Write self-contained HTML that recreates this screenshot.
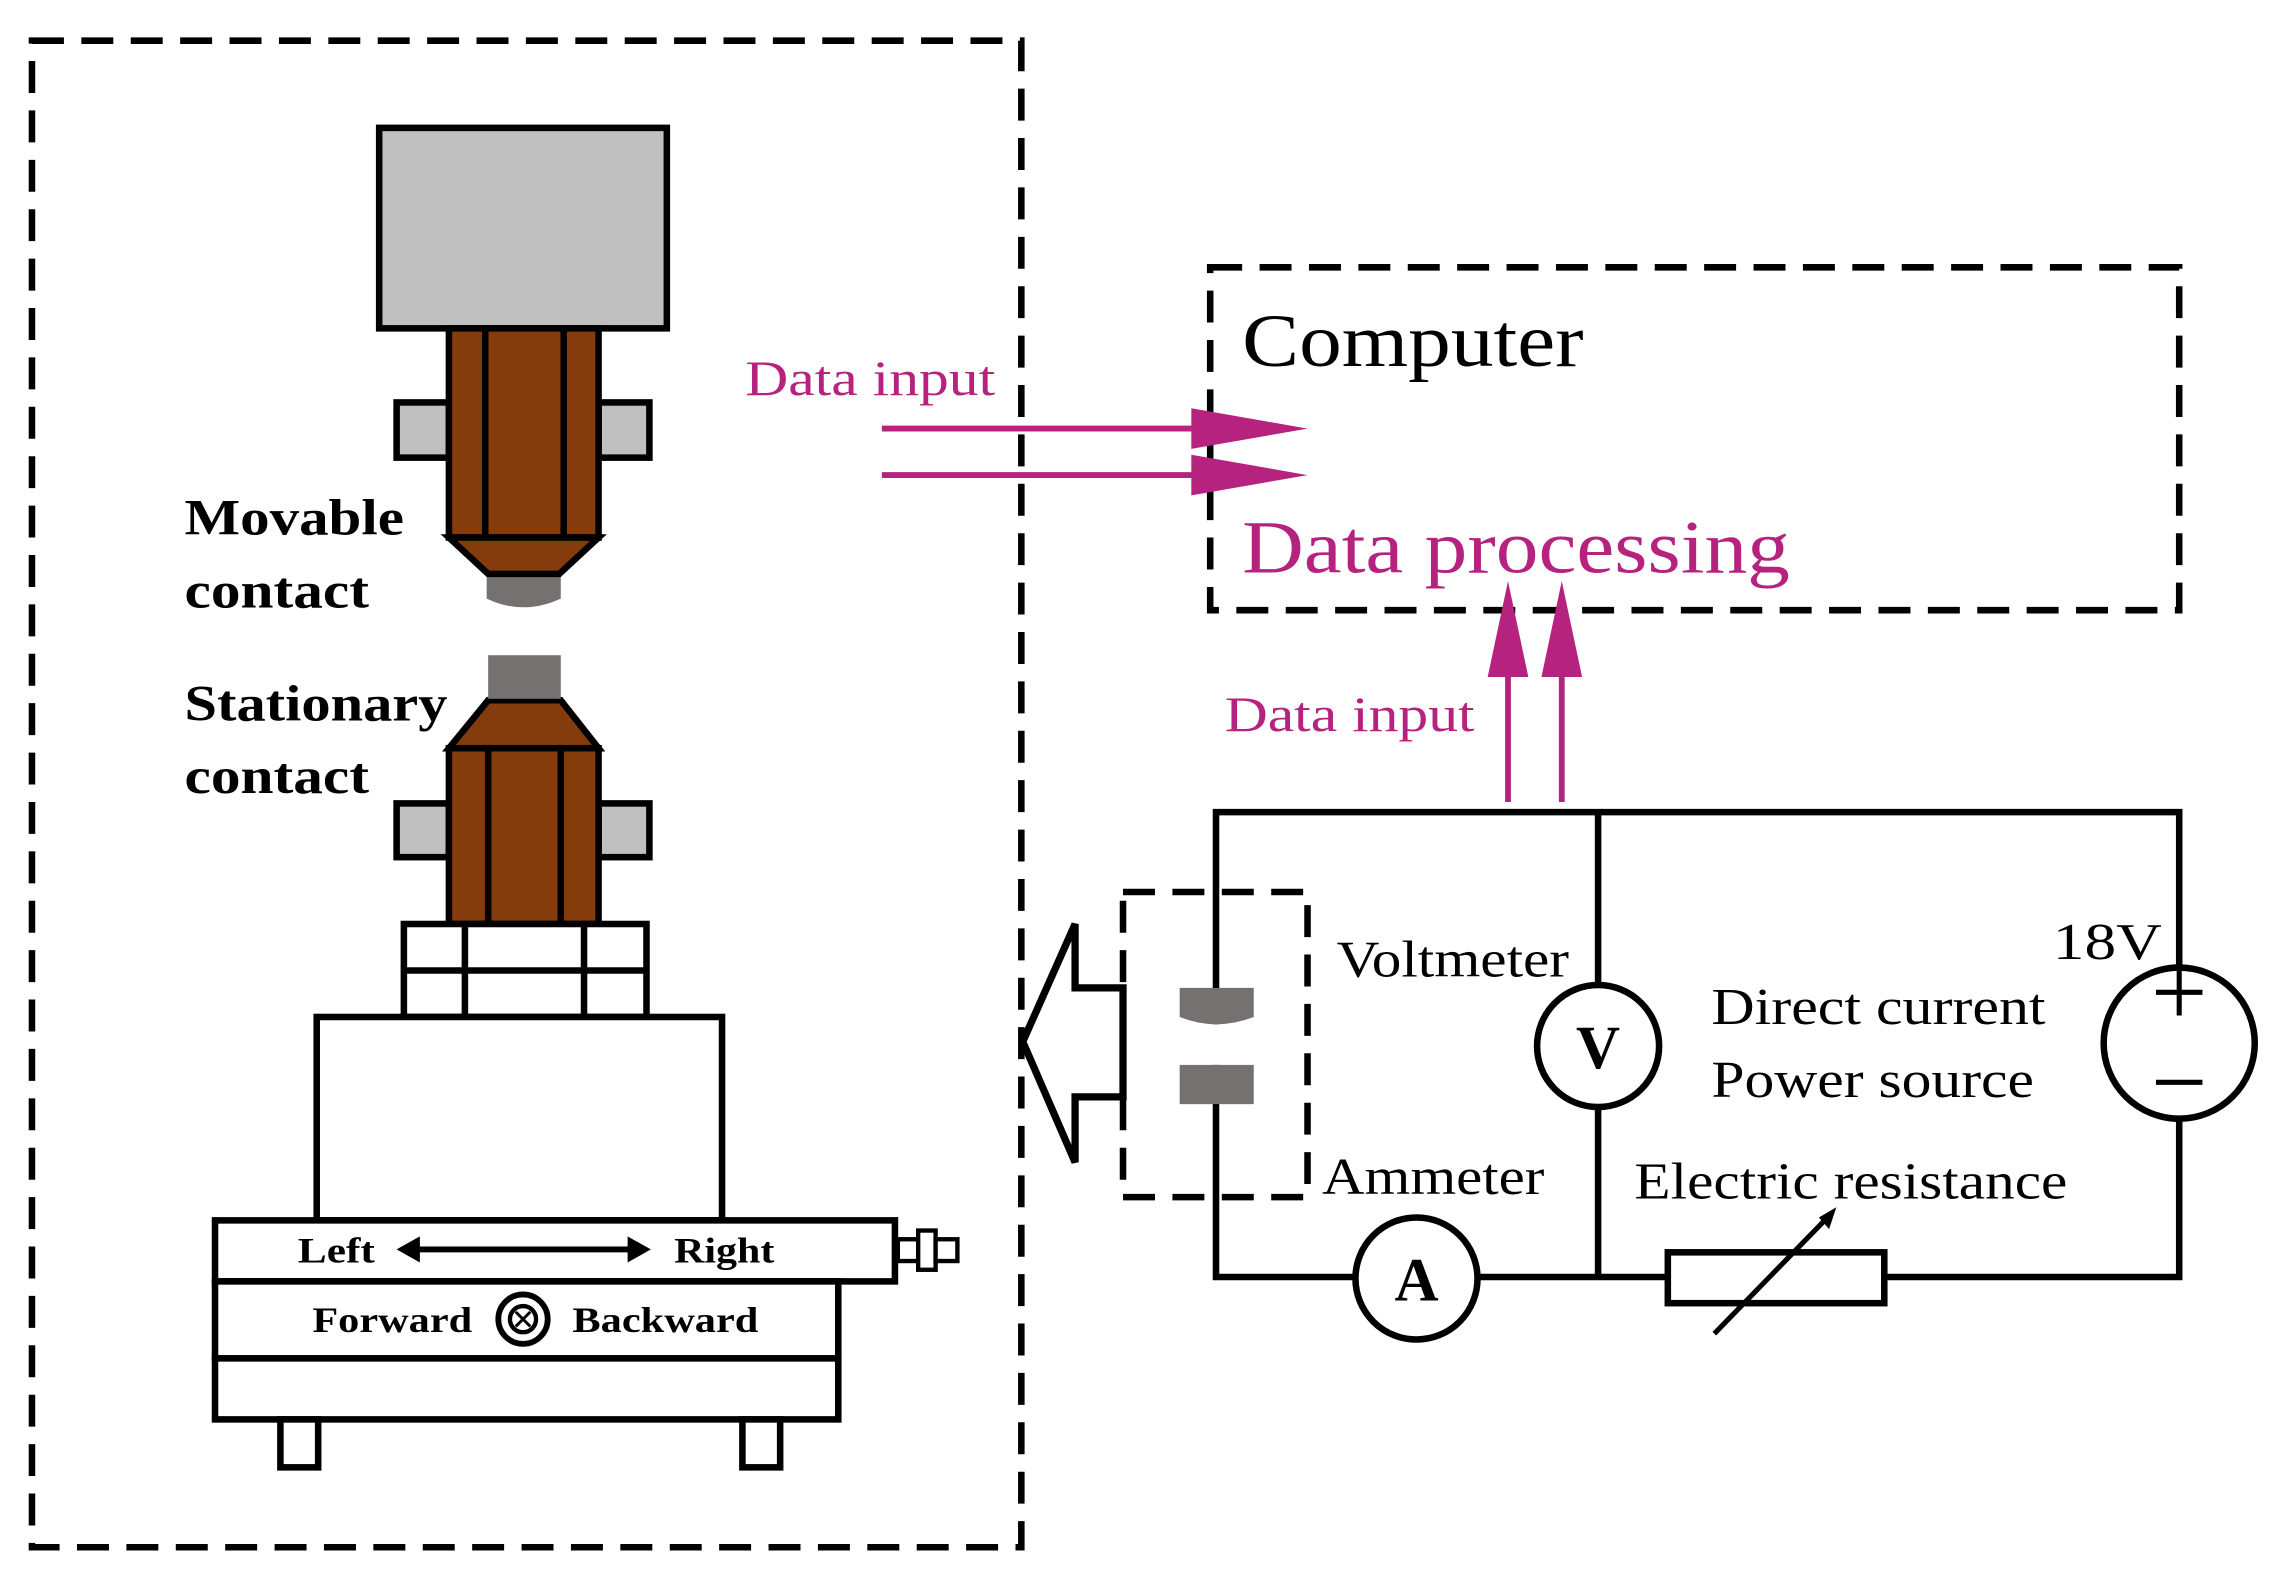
<!DOCTYPE html>
<html><head><meta charset="utf-8"><style>
html,body{margin:0;padding:0;background:#fff;}
svg{display:block;}
text{font-family:"Liberation Serif",serif;}
</style></head><body>
<svg width="2278" height="1583" viewBox="0 0 1568 1089.6" xmlns="http://www.w3.org/2000/svg">
<rect width="1568" height="1090" fill="#fff"/>
<g fill="none" stroke="#000" stroke-width="4.5" stroke-dasharray="22 12">
<rect x="22" y="28" width="681" height="1037"/>
<rect x="833" y="184" width="667" height="236"/>
<rect x="773" y="614" width="127" height="210"/>
</g>
<path d="M335,397 H386 V412 Q360,424 335,412 Z" fill="#757171"/>
<g stroke="#000" stroke-width="4.5">
<rect x="261" y="88" width="198" height="138" fill="#bfbfbf"/>
<rect x="273" y="277" width="36" height="38" fill="#bfbfbf"/>
<rect x="412" y="277" width="35" height="38" fill="#bfbfbf"/>
<rect x="309" y="226" width="103" height="144" fill="#843c0c"/>
<line x1="334" y1="226" x2="334" y2="370"/><line x1="388" y1="226" x2="388" y2="370"/>
<polygon points="309,370 412,370 385,395 336,395" fill="#843c0c"/>
<rect x="273" y="553" width="36" height="37" fill="#bfbfbf"/>
<rect x="412" y="553" width="35" height="37" fill="#bfbfbf"/>
<polygon points="336,482 386,482 412,515 309,515" fill="#843c0c"/>
<rect x="309" y="515" width="103" height="121" fill="#843c0c"/>
<line x1="336" y1="515" x2="336" y2="636"/><line x1="386" y1="515" x2="386" y2="636"/>
<rect x="278" y="636" width="167" height="64" fill="#fff"/>
<line x1="278" y1="668" x2="445" y2="668"/>
<line x1="320" y1="636" x2="320" y2="700"/><line x1="402" y1="636" x2="402" y2="700"/>
<rect x="218" y="700" width="279" height="140" fill="#fff"/>
<rect x="148" y="840" width="468" height="42" fill="#fff"/>
<rect x="148" y="882" width="429" height="53" fill="#fff"/>
<rect x="148" y="935" width="429" height="42" fill="#fff"/>
<rect x="193" y="977" width="26" height="33" fill="#fff"/>
<rect x="511" y="977" width="26" height="33" fill="#fff"/>
<rect x="618" y="853" width="14" height="15" fill="#fff" stroke-width="3"/>
<rect x="632" y="847" width="12" height="27" fill="#fff" stroke-width="3"/>
<rect x="644" y="853" width="15" height="15" fill="#fff" stroke-width="3"/>
</g>
<rect x="336" y="451" width="50" height="30" fill="#757171"/>
<g font-weight="bold" font-size="35" fill="#000" lengthAdjust="spacingAndGlyphs">
<text x="127" y="368" textLength="151" lengthAdjust="spacingAndGlyphs">Movable</text><text x="127" y="418" textLength="127" lengthAdjust="spacingAndGlyphs">contact</text>
<text x="127" y="496" textLength="181" lengthAdjust="spacingAndGlyphs">Stationary</text><text x="127" y="546" textLength="127" lengthAdjust="spacingAndGlyphs">contact</text>
</g>
<g font-weight="bold" font-size="25" fill="#000">
<text x="205" y="869" textLength="53" lengthAdjust="spacingAndGlyphs">Left</text><text x="464" y="869" textLength="69" lengthAdjust="spacingAndGlyphs">Right</text>
<text x="215" y="917" textLength="110" lengthAdjust="spacingAndGlyphs">Forward</text><text x="394" y="917" textLength="128" lengthAdjust="spacingAndGlyphs">Backward</text>
</g>
<line x1="285" y1="860" x2="437" y2="860" stroke="#000" stroke-width="4"/>
<polygon points="273,860 289,851 289,869" fill="#000"/><polygon points="448,860 432,851 432,869" fill="#000"/>
<circle cx="360" cy="908" r="17" fill="none" stroke="#000" stroke-width="4"/>
<circle cx="360" cy="908" r="9" fill="none" stroke="#000" stroke-width="3"/>
<path d="M355,903 L365,913 M365,903 L355,913" stroke="#000" stroke-width="2"/>
<g fill="#b5237e" stroke="#b5237e">
<text x="513" y="272" font-size="34" stroke="none" textLength="172" lengthAdjust="spacingAndGlyphs">Data input</text>
<text x="843" y="503" font-size="34" stroke="none" textLength="172" lengthAdjust="spacingAndGlyphs">Data input</text>
<text x="855" y="394" font-size="52" stroke="none" textLength="377" lengthAdjust="spacingAndGlyphs">Data processing</text>
<line x1="607" y1="295" x2="825" y2="295" stroke-width="4"/>
<line x1="607" y1="327" x2="825" y2="327" stroke-width="4"/>
<polygon points="820,281 900,295 820,309" stroke="none"/>
<polygon points="820,313 900,327 820,341" stroke="none"/>
<line x1="1038" y1="552" x2="1038" y2="460" stroke-width="4"/>
<line x1="1075" y1="552" x2="1075" y2="460" stroke-width="4"/>
<polygon points="1024,466 1038,400 1052,466" stroke="none"/>
<polygon points="1061,466 1075,400 1089,466" stroke="none"/>
</g>
<text x="855" y="252" font-size="52" fill="#000" textLength="235" lengthAdjust="spacingAndGlyphs">Computer</text>
<g stroke="#000" stroke-width="4.5" fill="none">
<polyline points="837,705 837,559 1500,559 1500,666"/>
<polyline points="1500,770 1500,879 1297,879"/>
<line x1="1148" y1="879" x2="1017" y2="879"/>
<polyline points="933,879 837,879 837,733"/>
<line x1="1100" y1="559" x2="1100" y2="678"/><line x1="1100" y1="762" x2="1100" y2="879"/>
<circle cx="1100" cy="720" r="42" fill="#fff"/>
<circle cx="975" cy="880" r="42" fill="#fff"/>
<circle cx="1500" cy="718" r="52" fill="#fff"/>
<rect x="1148" y="862" width="149" height="35" fill="#fff"/>
<line x1="1180" y1="918" x2="1255" y2="841" stroke-width="3.5"/>
<polygon points="773,680 740,680 740,636 704,717 740,800 740,755 773,755" fill="#fff" stroke-width="5"/>
<line x1="1484" y1="683" x2="1516" y2="683" stroke-width="3.5"/><line x1="1500" y1="667" x2="1500" y2="699" stroke-width="3.5"/>
<line x1="1484" y1="745" x2="1516" y2="745" stroke-width="3.5"/>
</g>
<polygon points="1264,831 1252,838 1259,846" fill="#000"/>
<path d="M812,680 H863 V700 Q837,710 812,700 Z" fill="#757171"/>
<rect x="812" y="733" width="51" height="27" fill="#757171"/>
<g font-size="36" fill="#000">
<text x="920" y="672" textLength="160" lengthAdjust="spacingAndGlyphs">Voltmeter</text>
<text x="1178" y="705" textLength="230" lengthAdjust="spacingAndGlyphs">Direct current</text>
<text x="1178" y="755" textLength="222" lengthAdjust="spacingAndGlyphs">Power source</text>
<text x="1413" y="660" textLength="75" lengthAdjust="spacingAndGlyphs">18V</text>
<text x="910" y="822" textLength="153" lengthAdjust="spacingAndGlyphs">Ammeter</text>
<text x="1125" y="825" textLength="298" lengthAdjust="spacingAndGlyphs">Electric resistance</text>
</g>
<text x="1100" y="735" font-size="42" font-weight="bold" text-anchor="middle">V</text>
<text x="975" y="895" font-size="42" font-weight="bold" text-anchor="middle">A</text>
</svg>
</body></html>
